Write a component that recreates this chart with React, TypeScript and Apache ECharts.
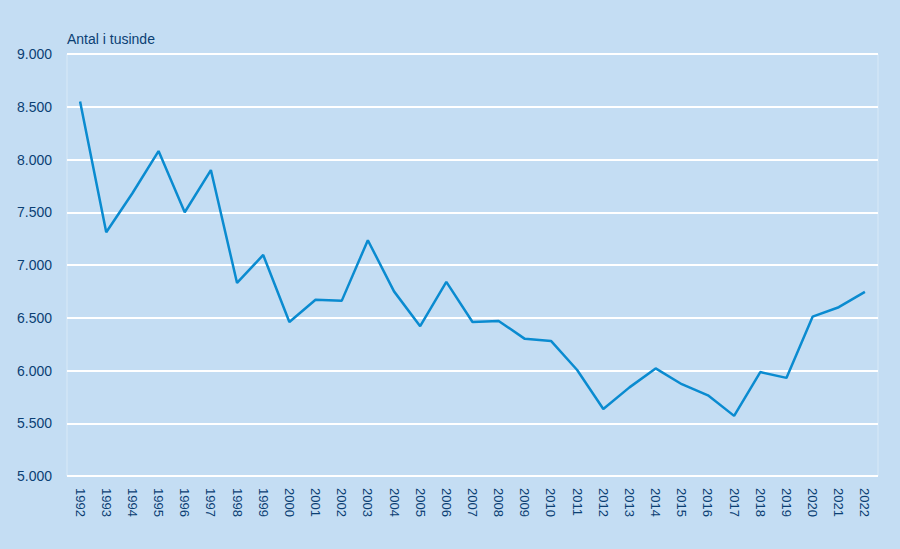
import React, { useEffect, useRef } from "react";
import * as echarts from "echarts";

const years = [
  "1992", "1993", "1994", "1995", "1996", "1997", "1998", "1999", "2000", "2001",
  "2002", "2003", "2004", "2005", "2006", "2007", "2008", "2009", "2010", "2011",
  "2012", "2013", "2014", "2015", "2016", "2017", "2018", "2019", "2020", "2021", "2022",
];
const values = [
  8550, 7310, 7680, 8080, 7500, 7900, 6830, 7095, 6460, 6670,
  6660, 7235, 6750, 6420, 6840, 6460, 6470, 6300, 6280, 6005,
  5635, 5840, 6020, 5870, 5765, 5570, 5985, 5930, 6510, 6600, 6745,
];
const yTitle = "Antal i tusinde";
const yMin = 5000;
const yMax = 9000;
const yStep = 500;

const fmt = (v: number) => {
  const s = String(Math.round(v));
  return s.replace(/\B(?=(\d{3})+(?!\d))/g, ".");
};

const FONT = "'Liberation Sans', Arial, sans-serif";

export default function App() {
  const ref = useRef<HTMLDivElement>(null);
  useEffect(() => {
    if (!ref.current) return;
    const chart = echarts.init(ref.current, undefined, { renderer: "svg" });
    const textColor = "#0b3f73";
    chart.setOption({
      animation: false,
      backgroundColor: "#c4ddf3",
      graphic: [
        {
          type: "text",
          x: 67,
          y: 38.5,
          style: {
            text: yTitle,
            fill: textColor,
            fontSize: 14,
            fontFamily: FONT,
            verticalAlign: "middle",
            align: "left",
          },
        },
      ],
      grid: {
        left: 67,
        right: 22,
        top: 54,
        bottom: 73,
        show: true,
        borderColor: "rgba(255,255,255,0.35)",
        borderWidth: 1,
        backgroundColor: "transparent",
      },
      xAxis: {
        type: "category",
        data: years,
        boundaryGap: true,
        axisLine: { show: false },
        axisTick: { show: false },
        axisLabel: {
          rotate: -90,
          margin: 12,
          color: textColor,
          fontSize: 13,
          fontFamily: FONT,
          interval: 0,
        },
        splitLine: { show: false },
      },
      yAxis: {
        type: "value",
        min: yMin,
        max: yMax,
        interval: yStep,
        axisLine: { show: false },
        axisTick: { show: false },
        axisLabel: {
          margin: 15,
          color: textColor,
          fontSize: 14,
          fontFamily: FONT,
          formatter: (v: number) => fmt(v),
        },
        splitLine: { show: true, lineStyle: { color: "#ffffff", width: 2 } },
      },
      series: [
        {
          type: "line",
          data: values,
          symbol: "none",
          lineStyle: { color: "#0a8bd0", width: 2.5 },
          itemStyle: { color: "#0a8bd0" },
        },
      ],
    });
    return () => chart.dispose();
  }, []);
  return (
    <div
      ref={ref}
      style={{ position: "fixed", left: 0, top: 0, width: 900, height: 549 }}
    />
  );
}
